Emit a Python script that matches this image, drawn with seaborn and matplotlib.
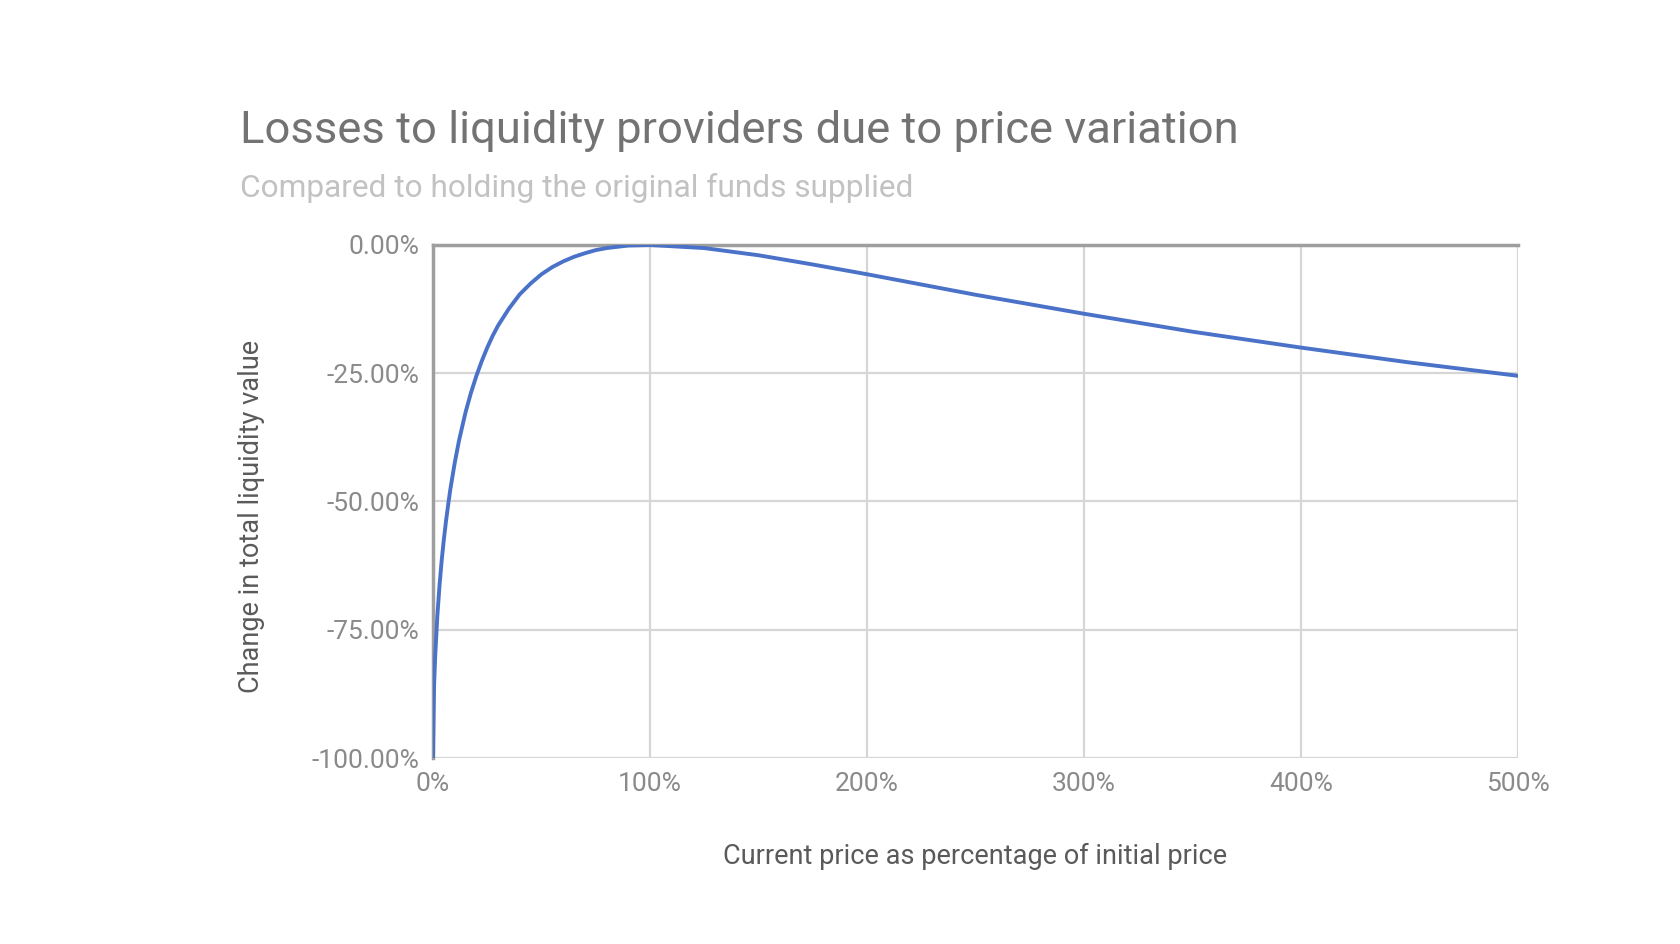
import matplotlib
matplotlib.use("Agg")
import matplotlib.pyplot as plt
import seaborn as sns
import pandas as pd
from matplotlib.ticker import FuncFormatter

# Current price as % of initial price (x) and change in liquidity value in % (y)
price_pct = [0, 0.5, 1, 2, 3, 4, 5, 6, 7, 8, 10, 12, 15, 17.5, 20, 22.5, 25, 27.5, 30, 35, 40, 45,
             50, 55, 60, 65, 70, 75, 80, 90,
             100, 125, 150, 175, 200, 250, 300, 350, 400, 450, 500]
value_change = [-100.0, -85.9, -80.2, -72.3, -66.4, -61.5, -57.4, -53.8, -50.6, -47.6, -42.5, -38.1,
                -32.6, -28.8, -25.5, -22.6, -20.0, -17.7, -15.7, -12.4, -9.6, -7.5,
                -5.7, -4.3, -3.2, -2.3, -1.6, -1.0, -0.6, -0.1,
                0.0, -0.6, -2.0, -3.8, -5.7, -9.7, -13.4, -16.9, -20.0, -22.9, -25.5]
x_ticks = [0, 100, 200, 300, 400, 500]
y_ticks = [0, -25, -50, -75, -100]

title = "Losses to liquidity providers due to price variation"
subtitle = "Compared to holding the original funds supplied"
x_label = "Current price as percentage of initial price"
y_label = "Change in total liquidity value"

df = pd.DataFrame({"price": price_pct, "change": value_change})

sns.set_theme(style="white")
plt.rcParams["font.family"] = ["Roboto", "DejaVu Sans"]

fig = plt.figure(figsize=(16.8, 9.44), dpi=100)
ax = fig.add_axes([433 / 1680, 1 - 758 / 944, (1518 - 433) / 1680, (758 - 245) / 944])

sns.lineplot(data=df, x="price", y="change", ax=ax, color="#4a72c8", linewidth=2.8, zorder=3)

ax.set_xlim(0, 500)
ax.set_ylim(-100, 0)
ax.set_xticks(x_ticks)
ax.set_yticks(y_ticks)
ax.xaxis.set_major_formatter(FuncFormatter(lambda v, p: f"{int(v)}%"))
ax.yaxis.set_major_formatter(FuncFormatter(lambda v, p: f"{v:.2f}%"))
ax.tick_params(axis="both", length=0, labelsize=19, colors="#8a8a8a")
ax.tick_params(axis="y", pad=10)
ax.tick_params(axis="x", pad=10)

ax.grid(True, color="#d6d6d6", linewidth=1.6)
for s in ["right", "bottom"]:
    ax.spines[s].set_visible(False)
ax.spines["top"].set_color("#9e9e9e")
ax.spines["top"].set_linewidth(2.5)
ax.spines["left"].set_color("#9e9e9e")
ax.spines["left"].set_linewidth(2.5)

ax.set_xlabel(x_label, fontsize=19.5, color="#5a5a5a", labelpad=34)
ax.set_ylabel(y_label, fontsize=19.5, color="#5a5a5a")
ax.yaxis.set_label_coords(-0.155, 0.47)

fig.text(240 / 1680, 1 - 131 / 944, title, fontsize=32.7, color="#737373", va="center", ha="left")
fig.text(240 / 1680, 1 - 188 / 944, subtitle, fontsize=22.8, color="#c2c2c2", va="center", ha="left")

fig.savefig("out.png", dpi=100, facecolor="white")
